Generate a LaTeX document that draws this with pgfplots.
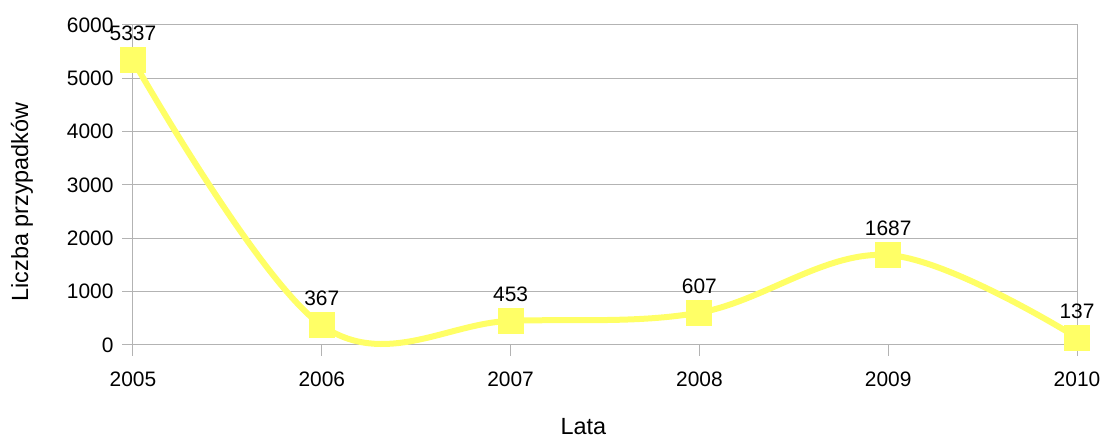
\documentclass[border=0pt]{standalone}
\usepackage{pgfplots}
\pgfplotsset{compat=1.18}
\usepackage{fontspec}
\setmainfont{Liberation Sans}
\definecolor{lineyel}{HTML}{FFFF66}
\definecolor{gridgray}{HTML}{B3B3B3}
\begin{document}
\begin{tikzpicture}[x=1bp,y=1bp]
\begin{axis}[
  at={(0,0)}, anchor=south west,
  scale only axis,
  width=944bp, height=320bp,
  xmin=2005, xmax=2010,
  ymin=0, ymax=6000,
  xtick={2005,2006,2007,2008,2009,2010},
  ytick={0,1000,2000,3000,4000,5000,6000},
  /pgf/number format/assume math mode=true,
  x tick label style={/pgf/number format/1000 sep={}, font=\fontsize{21}{25}\selectfont, yshift=-12bp},
  y tick label style={/pgf/number format/1000 sep={}, font=\fontsize{21}{25}\selectfont, xshift=-5bp},
  ymajorgrids,
  grid style={gridgray, line width=1bp},
  axis line style={gridgray, line width=1bp},
  tick style={gridgray, line width=1bp},
  tick align=outside,
  major tick length=11bp,
  xtick pos=bottom, ytick pos=left,
  xlabel={Lata},
  ylabel={Liczba przypadków},
  xlabel style={font=\fontsize{23.5}{28}\selectfont, at={(axis description cs:0.477,0)}, anchor=center, yshift=-82bp},
  ylabel style={font=\fontsize{23.5}{28}\selectfont, at={(axis description cs:-0.1176,0.447)}, anchor=center},
  nodes near coords,
  every node near coord/.append style={font=\fontsize{21}{25}\selectfont, text=black, anchor=south, yshift=13bp},
  point meta=explicit symbolic,
  clip=false,
]
\addplot[lineyel, line width=6bp, smooth, tension=0.6, mark=square*, mark size=10bp, mark options={fill=lineyel, draw=none}]
  table[meta=lab] {
x y lab
2005 5337 5337
2006 367 367
2007 453 453
2008 607 607
2009 1687 1687
2010 137 137
};
\end{axis}
\useasboundingbox (-133,-95) rectangle (973,345);
\end{tikzpicture}
\end{document}
